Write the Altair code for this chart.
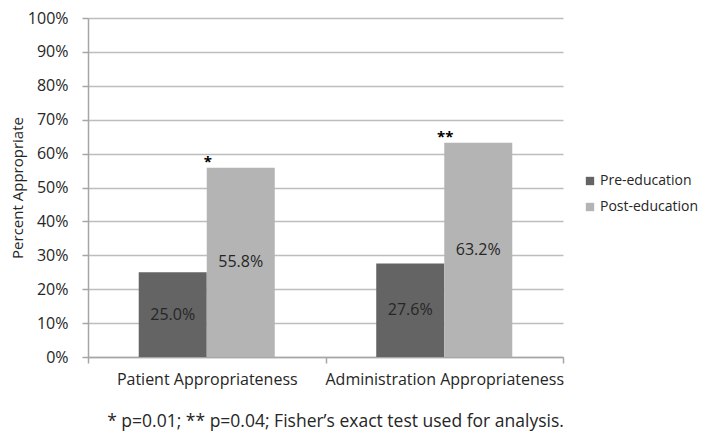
import altair as alt
import pandas as pd

categories = ["Patient Appropriateness", "Administration Appropriateness"]
series = ["Pre-education", "Post-education"]
pre_values = [0.250, 0.276]
post_values = [0.558, 0.632]
significance = ["*", "**"]
colors = ["#646464", "#b4b4b4"]
y_ticks = [0.0, 0.1, 0.2, 0.3, 0.4, 0.5, 0.6, 0.7, 0.8, 0.9, 1.0]

rows = []
for i, c in enumerate(categories):
    rows.append({"category": c, "series": series[0], "value": pre_values[i], "sig": ""})
    rows.append({"category": c, "series": series[1], "value": post_values[i], "sig": significance[i]})
df = pd.DataFrame(rows)

FONT = "Open Sans"
TXT = "#262626"

x = alt.X("category:N", sort=categories, title=None,
          scale=alt.Scale(paddingInner=0, paddingOuter=0),
          axis=alt.Axis(labelAngle=0, tickBand="extent", grid=False, domainColor="#a6a6a6",
                        tickColor="#a6a6a6", tickSize=6, labelFontSize=16, labelColor=TXT,
                        labelPadding=8, labelFont=FONT, domainWidth=1.5, tickWidth=1.5,
                        labelLimit=400))
xoff = alt.XOffset("series:N", sort=series,
                   scale=alt.Scale(paddingInner=0, paddingOuter=0.746))
y_axis = alt.Axis(format=".0%", values=y_ticks, gridColor="#bdbdbd", tickCount=11,
                  gridWidth=1.5, domainColor="#a6a6a6", tickColor="#a6a6a6", tickSize=6,
                  domainWidth=1.5, tickWidth=1.5, labelOverlap=False,
                  labelFontSize=16, labelColor=TXT, labelPadding=14, labelFont=FONT,
                  titleFontSize=15, titleFontWeight="normal", titleColor=TXT,
                  titleFont=FONT, titlePadding=2)
y_scale = alt.Scale(domain=[0, 1], nice=False)

base = alt.Chart(df)

bars = base.mark_bar().encode(
    x=x, xOffset=xoff,
    y=alt.Y("value:Q", title="Percent Appropriate", scale=y_scale, axis=y_axis),
    color=alt.Color("series:N", sort=series, scale=alt.Scale(domain=series, range=colors),
                    legend=alt.Legend(title=None, orient="none", legendX=495, legendY=156,
                                      symbolType="square", symbolSize=70, symbolStrokeWidth=0,
                                      labelFontSize=14, labelFont=FONT, labelColor=TXT,
                                      rowPadding=12, labelOffset=3)),
)

labels = base.transform_calculate(mid="datum.value / 2").mark_text(
    fontSize=16, font=FONT, color=TXT, baseline="middle"
).encode(
    x=x, xOffset=xoff,
    y=alt.Y("mid:Q", title="Percent Appropriate", scale=y_scale, axis=y_axis),
    text=alt.Text("value:Q", format=".1%")
)

stars = base.mark_text(
    fontSize=15, font=FONT, color="#000000", fontWeight="bold", baseline="alphabetic", dx=-33, dy=-1
).encode(
    x=x, xOffset=xoff,
    y=alt.Y("value:Q", title="Percent Appropriate", scale=y_scale, axis=y_axis),
    text="sig:N"
)

chart = alt.layer(bars, labels, stars).properties(
    width=475, height=339,
    autosize=alt.AutoSizeParams(type="none"),
    padding={"left": 80, "top": 10, "right": 140, "bottom": 76},
    title=alt.TitleParams(
        "* p=0.01; ** p=0.04; Fisher\u2019s exact test used for analysis.",
        orient="bottom", anchor="middle", frame="group", fontSize=17.5, fontWeight="normal",
        font=FONT, color=TXT, offset=26, dx=10),
).configure_view(stroke=None)

chart.save("out.html", embed_options={"renderer": "svg", "actions": False})
